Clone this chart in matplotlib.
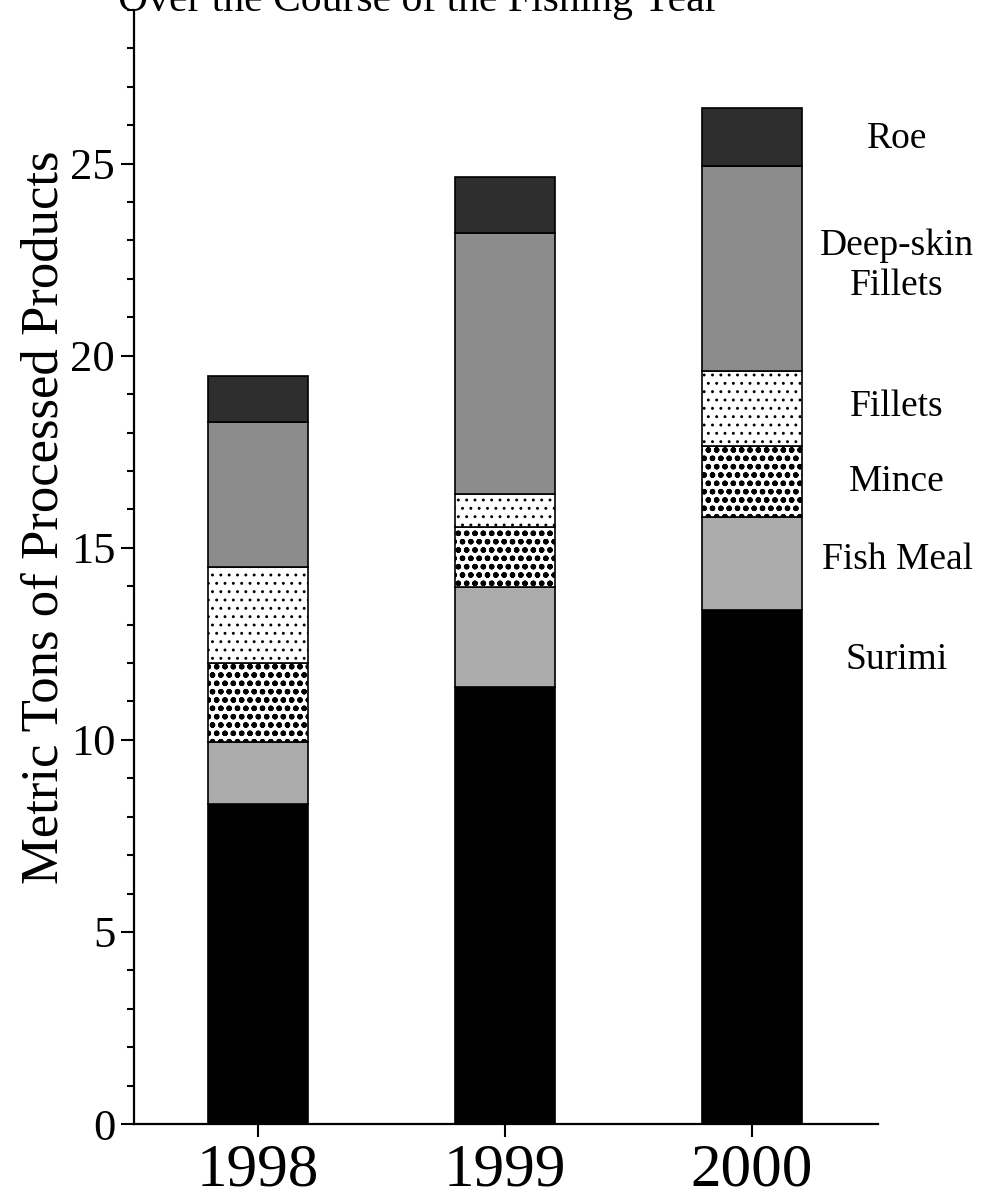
import matplotlib
matplotlib.use("Agg")
import matplotlib.pyplot as plt
import numpy as np

years = ["1998", "1999", "2000"]
categories = ["Surimi", "Fish Meal", "Mince", "Fillets", "Deep-skin\nFillets", "Roe"]
surimi = [8.32, 11.37, 13.38]
fish_meal = [1.62, 2.62, 2.41]
mince = [2.05, 1.54, 1.86]
fillets = [2.51, 0.87, 1.95]
deep_skin = [3.77, 6.80, 5.33]
roe = [1.20, 1.44, 1.53]
series = [surimi, fish_meal, mince, fillets, deep_skin, roe]

title = "Over the Course of the Fishing Year"
ylabel = "Metric Tons of Processed Products"

# styles
faces = ["black", "#ababab", "white", "white", "#8c8c8c", "#2e2e2e"]
hatches = [None, None, "oo", "..", None, None]
hatch_lw = [1.0, 1.0, 1.6, 0.9, 1.0, 1.0]
# label vertical positions (figure pixels from top)
label_px = [660, 560, 482, 407, 266, 139]

plt.rcParams["font.family"] = ["Liberation Serif", "DejaVu Serif"]

W, H = 1000, 1199
fig = plt.figure(figsize=(W / 100, H / 100), dpi=100)
ax = fig.add_axes([134 / W, 1 - 1124 / H, (878 - 134) / W, (1124 - 10) / H])

x = np.arange(len(years))
bottom = np.zeros(len(years))
for vals, fc, ht, hl in zip(series, faces, hatches, hatch_lw):
    with plt.rc_context({"hatch.linewidth": hl}):
        bars = ax.bar(x, vals, width=0.405, bottom=bottom, color=fc,
                      edgecolor="black", linewidth=1.2, hatch=ht, zorder=2)
    for b in bars:
        if hasattr(b, "set_hatch_linewidth"):
            b.set_hatch_linewidth(hl)
    bottom = bottom + np.array(vals)

ax.set_xlim(-0.5, 2.51)
ax.set_ylim(0, 29)
ax.set_xticks(x)
ax.set_xticklabels(years, fontsize=44)
ax.set_yticks([0, 5, 10, 15, 20, 25])
ax.set_yticks(np.arange(0, 30, 1), minor=True)
ax.tick_params(axis="y", which="major", length=9.5, width=1.5, labelsize=32, pad=4)
ax.tick_params(axis="y", which="minor", length=5, width=1.5)
ax.tick_params(axis="x", which="major", length=9.5, width=1.5, pad=4)
ax.tick_params(axis="x", which="minor", bottom=False)
for s in ["top", "right"]:
    ax.spines[s].set_visible(False)
for s in ["left", "bottom"]:
    ax.spines[s].set_linewidth(1.6)

fig.text(45 / W, 1 - 517 / H, ylabel, rotation=90, ha="center", va="center", fontsize=38)
fig.text(418 / W, 1 - 11 / H, title, ha="center", va="baseline", fontsize=30)

for lab, py in zip(categories, label_px):
    fig.text(897 / W, 1 - py / H, lab, ha="center", va="center", fontsize=27,
             linespacing=1.2)

fig.savefig("out.png", dpi=100)
